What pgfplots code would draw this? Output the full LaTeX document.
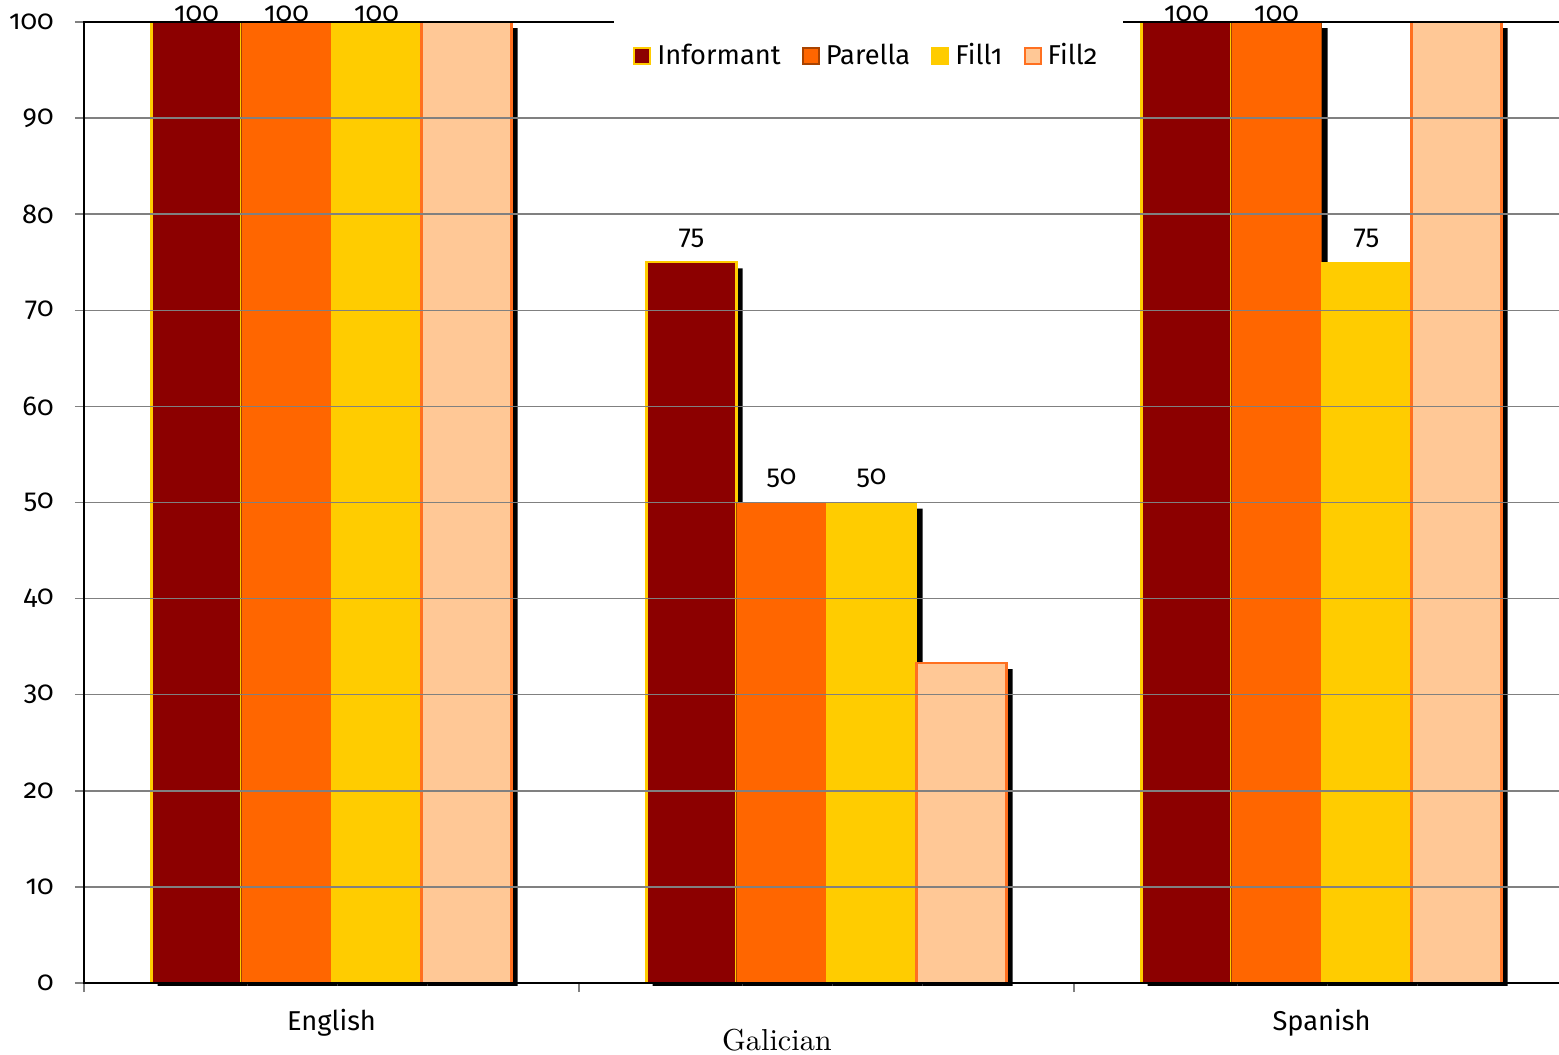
\documentclass[border=0pt]{standalone}
\usepackage{fontspec}
\setsansfont{Fira Sans}[Numbers=OldStyle]
\usepackage{pgfplots}
\pgfplotsset{compat=1.18}
\usepackage{pgfplotstable}

\definecolor{informant}{HTML}{8C0000}
\definecolor{informantedge}{HTML}{FFCC00}
\definecolor{parella}{HTML}{FF6600}
\definecolor{parellaedge}{HTML}{A84300}
\definecolor{fillone}{HTML}{FFCC00}
\definecolor{filltwo}{HTML}{FFC896}
\definecolor{filltwoedge}{HTML}{FF7020}

% groups: 0 = English, 1 = Galician, 2 = Spanish
\pgfplotstableread{
x y lbl
0 100 100
1 75 75
2 100 100
}\informantdata
\pgfplotstableread{
x y lbl
0 100 100
1 50 50
2 100 100
}\parelladata
\pgfplotstableread{
x y lbl
0 100 100
1 50 50
2 75 75
}\fillonedata
\pgfplotstableread{
x y
0 100
1 33.3
2 100
}\filltwodata

\begin{document}
\begin{tikzpicture}[font=\sffamily\fontsize{9}{11}\selectfont]
\begin{axis}[
  set layers=axis on top,
  scale only axis,
  width=490.05pt, height=317.13pt,
  xmin=-0.5, xmax=2.5,
  ymin=0, ymax=100,
  clip=false,
  /pgf/number format/assume math mode=true,
  axis line style={black, line width=0.8pt},
  ytick={0,10,...,100},
  xtick={-0.5,0.5,1.5,2.5},
  x tick label as interval,
  xticklabels={English,,Spanish},
  xtick pos=bottom, ytick pos=left,
  tick align=outside,
  major tick length=3pt,
  tick style={color=gray, line width=0.5pt},
  ymajorgrids,
  major grid style={color=gray, line width=0.5pt},
  yticklabel style={xshift=-3.5pt},
  xticklabel style={yshift=-2.2pt},
  legend columns=4,
  legend style={
    at={(0.5282,0.964)}, anchor=center,
    fill=white, draw=none,
    inner xsep=6.5pt, inner ysep=6pt,
    /tikz/every even column/.append style={column sep=5pt},
  },
  legend image code/.code={
    \draw[#1, line width=0.7pt] (0pt,-2.5pt) rectangle (5.2pt,2.7pt);
  },
  bar width=0.1818,
  visualization depends on={rawy \as \rawy},
  every node near coord/.append style={
    anchor=center, text=black,
    yshift={ifthenelse(\rawy>99,2.7,8)*1pt},
  },
]
% drop shadows, drawn first so the bars sit on top of them
\addplot[ybar, bar shift=-0.2727, fill=black, draw=none, forget plot,
  xshift=2pt, yshift=-2pt] table[x=x, y=y] {\informantdata};
\addplot[ybar, bar shift=-0.0909, fill=black, draw=none, forget plot,
  xshift=2pt, yshift=-2pt] table[x=x, y=y] {\parelladata};
\addplot[ybar, bar shift=0.0909, fill=black, draw=none, forget plot,
  xshift=2pt, yshift=-2pt] table[x=x, y=y] {\fillonedata};
\addplot[ybar, bar shift=0.2727, fill=black, draw=none, forget plot,
  xshift=2pt, yshift=-2pt] table[x=x, y=y] {\filltwodata};

% keep the shadow feet from spilling far under the baseline
\fill[white] ([yshift=-0.9pt]rel axis cs:0,0) rectangle ([yshift=-2.6pt]rel axis cs:1,0);

% bars
\addplot[ybar, bar shift=-0.2727, fill=informant, draw=informantedge,
  line width=0.7pt, nodes near coords, point meta=explicit symbolic,
  every node near coord/.append style={xshift=-44.55pt}]
  table[x=x, y=y, meta=lbl] {\informantdata};
\addlegendentry{Informant}
\addplot[ybar, bar shift=-0.0909, fill=parella, draw=parellaedge,
  line width=0.4pt, nodes near coords, point meta=explicit symbolic,
  every node near coord/.append style={xshift=-14.85pt}]
  table[x=x, y=y, meta=lbl] {\parelladata};
\addlegendentry{Parella}
\addplot[ybar, bar shift=0.0909, fill=fillone, draw=fillone,
  line width=0.2pt, nodes near coords, point meta=explicit symbolic,
  every node near coord/.append style={xshift=14.85pt}]
  table[x=x, y=y, meta=lbl] {\fillonedata};
\addlegendentry{Fill1}
\addplot[ybar, bar shift=0.2727, fill=filltwo, draw=filltwoedge,
  line width=0.7pt]
  table[x=x, y=y] {\filltwodata};
\addlegendentry{Fill2}

\node[font=\rmfamily\fontsize{10}{12}\selectfont] at ([yshift=-18.8pt]axis cs:0.9,0) {Galician};
\coordinate (ll) at (rel axis cs:0,0);
\end{axis}
\pgfresetboundingbox
\path ([shift={(-27.72pt,-23.76pt)}]ll) rectangle ([shift={(486.75pt,324.39pt)}]ll);
\end{tikzpicture}
\end{document}
